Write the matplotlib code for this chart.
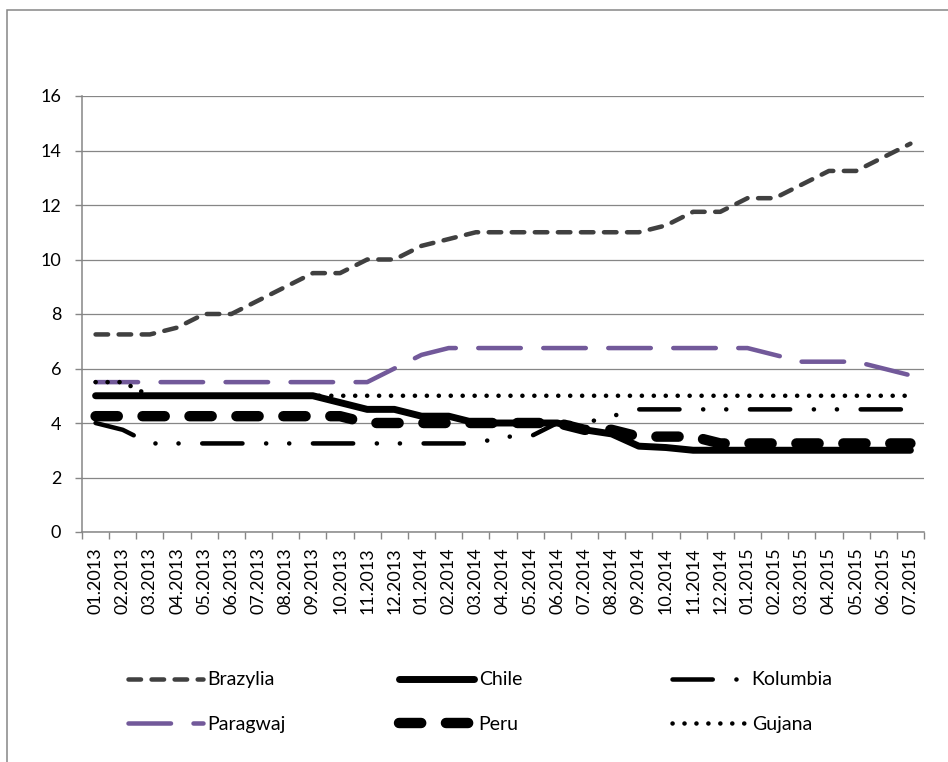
import matplotlib.pyplot as plt
from matplotlib.patches import Rectangle

plt.rcParams['font.family'] = ['Lato', 'DejaVu Sans']
plt.rcParams['lines.scale_dashes'] = False

months = ['01.2013', '02.2013', '03.2013', '04.2013', '05.2013', '06.2013', '07.2013',
          '08.2013', '09.2013', '10.2013', '11.2013', '12.2013', '01.2014', '02.2014',
          '03.2014', '04.2014', '05.2014', '06.2014', '07.2014', '08.2014', '09.2014',
          '10.2014', '11.2014', '12.2014', '01.2015', '02.2015', '03.2015', '04.2015',
          '05.2015', '06.2015', '07.2015']

brazylia = [7.25, 7.25, 7.25, 7.5, 8, 8, 8.5, 9, 9.5, 9.5, 10, 10, 10.5, 10.75, 11, 11,
            11, 11, 11, 11, 11, 11.25, 11.75, 11.75, 12.25, 12.25, 12.75, 13.25, 13.25,
            13.75, 14.25]
chile = [5, 5, 5, 5, 5, 5, 5, 5, 5, 4.75, 4.5, 4.5, 4.25, 4.25, 4, 4, 4, 4, 3.75, 3.6,
         3.15, 3.1, 3, 3, 3, 3, 3, 3, 3, 3, 3]
kolumbia = [4, 3.75, 3.25, 3.25, 3.25, 3.25, 3.25, 3.25, 3.25, 3.25, 3.25, 3.25, 3.25,
            3.25, 3.25, 3.5, 3.5, 4, 4, 4.25, 4.5, 4.5, 4.5, 4.5, 4.5, 4.5, 4.5, 4.5,
            4.5, 4.5, 4.5]
paragwaj = [5.5, 5.5, 5.5, 5.5, 5.5, 5.5, 5.5, 5.5, 5.5, 5.5, 5.5, 6, 6.5, 6.75, 6.75,
            6.75, 6.75, 6.75, 6.75, 6.75, 6.75, 6.75, 6.75, 6.75, 6.75, 6.5, 6.25, 6.25,
            6.25, 6, 5.75]
peru = [4.25, 4.25, 4.25, 4.25, 4.25, 4.25, 4.25, 4.25, 4.25, 4.25, 4, 4, 4, 4, 4, 4,
        4, 4, 3.75, 3.75, 3.5, 3.5, 3.5, 3.25, 3.25, 3.25, 3.25, 3.25, 3.25, 3.25, 3.25]
gujana = [5.5, 5.5] + [5] * 29

x = list(range(len(months)))
grey = '#868686'

fig = plt.figure(figsize=(9.48, 7.62), dpi=100)
ax = fig.add_axes([82 / 948, 1 - 532 / 762, (924 - 82) / 948, (532 - 96) / 762])

common = dict(dash_capstyle='round', solid_capstyle='round', solid_joinstyle='round',
              dash_joinstyle='round')
ax.plot(x, brazylia, color='#404040', lw=3.25, dashes=(9, 7.6), label='Brazylia', **common)
ax.plot(x, chile, color='black', lw=5, label='Chile', **common)
ax.plot(x, kolumbia, color='black', lw=3.25, dashes=(29, 17, 0.1, 16.5, 0.1, 17),
        label='Kolumbia', **common)
ax.plot(x, paragwaj, color='#72599A', lw=3.25, dashes=(30.6, 16.2), label='Paragwaj', **common)
ax.plot(x, peru, color='black', lw=7.5, dashes=(16, 17.8), label='Peru', **common)
ax.plot(x, gujana, color='black', lw=3.25, dashes=(0.1, 8.5), label='Gujana', **common)

ax.set_xlim(-0.5, len(months) - 0.5)
ax.set_ylim(0, 16)
ax.set_yticks(range(0, 17, 2))
ax.yaxis.grid(True, color=grey, lw=0.9)
ax.set_axisbelow(True)

ax.set_xticks(x)
ax.set_xticklabels(months, rotation=90, fontsize=13)
ax.set_xticks([i - 0.5 for i in range(len(months) + 1)], minor=True)
ax.tick_params(axis='x', which='major', length=0, pad=11)
ax.tick_params(axis='x', which='minor', length=5, color=grey, width=1)
ax.tick_params(axis='y', length=5, color=grey, width=1, pad=10, labelsize=13)

for side in ['top', 'right']:
    ax.spines[side].set_visible(False)
for side in ['left', 'bottom']:
    ax.spines[side].set_color(grey)
    ax.spines[side].set_linewidth(1.1)

# outer chart border (only left/top visible)
fig.patches.append(Rectangle((7 / 948, -0.1), 1.2, 1.1 - 10 / 762, fill=False,
                             edgecolor=grey, lw=1.1, transform=fig.transFigure))

handles, labels = ax.get_legend_handles_labels()
cols = [(0, 3), (1, 4), (2, 5)]
starts = [128, 399, 672]
for (a, b), xs in zip(cols, starts):
    fig.legend([handles[a], handles[b]], [labels[a], labels[b]],
               loc='center left', bbox_to_anchor=(xs / 948, 1 - 702 / 762),
               frameon=False, fontsize=14, handlelength=3.85, handletextpad=0.25,
               borderpad=0, borderaxespad=0, labelspacing=1.4)

fig.savefig('out.png', dpi=100, facecolor='white')
